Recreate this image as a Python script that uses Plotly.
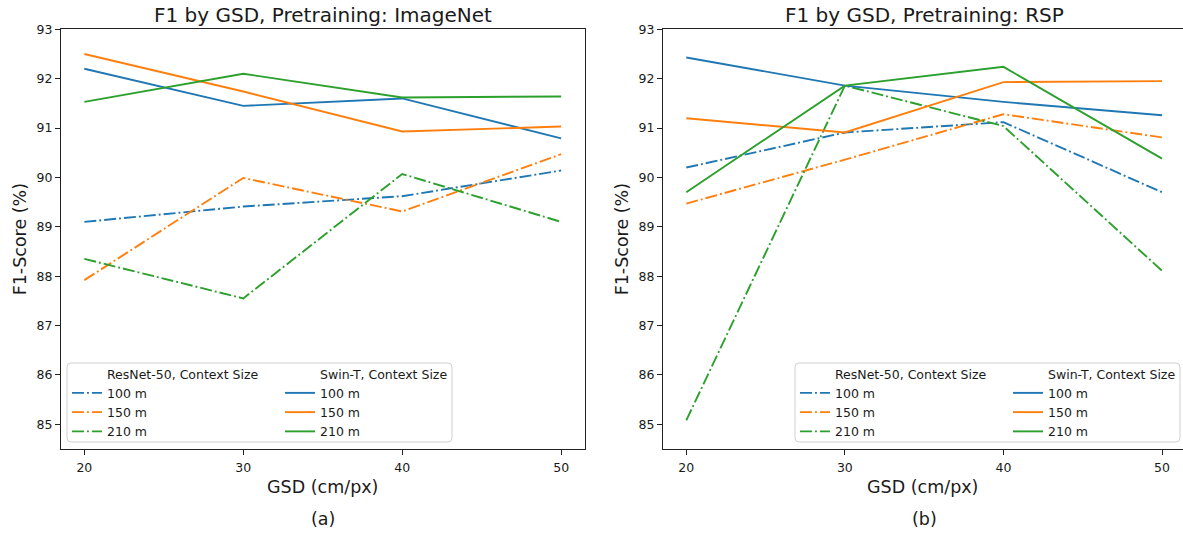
import plotly.graph_objects as go

# ---- data ----
gsd = [20, 30, 40, 50]
context_sizes = ["100 m", "150 m", "210 m"]

# Panel (a) ImageNet pretraining
imagenet_resnet = {
    "100 m": [89.10, 89.41, 89.62, 90.14],
    "150 m": [87.92, 89.99, 89.31, 90.47],
    "210 m": [88.35, 87.55, 90.07, 89.10],
}
imagenet_swin = {
    "100 m": [92.20, 91.45, 91.60, 90.79],
    "150 m": [92.50, 91.74, 90.93, 91.03],
    "210 m": [91.53, 92.10, 91.62, 91.64],
}
# Panel (b) RSP pretraining
rsp_resnet = {
    "100 m": [90.20, 90.91, 91.12, 89.70],
    "150 m": [89.47, 90.36, 91.28, 90.81],
    "210 m": [85.08, 91.86, 91.04, 88.11],
}
rsp_swin = {
    "100 m": [92.43, 91.86, 91.53, 91.26],
    "150 m": [91.20, 90.91, 91.93, 91.95],
    "210 m": [89.70, 91.86, 92.24, 90.38],
}
panel_titles = ["F1 by GSD, Pretraining: ImageNet", "F1 by GSD, Pretraining: RSP"]
panel_labels = ["(a)", "(b)"]
y_ticks = [85, 86, 87, 88, 89, 90, 91, 92, 93]

# ---- styling ----
W, H = 1183, 533
colors = {"100 m": "#1f77b4", "150 m": "#ff7f0e", "210 m": "#2ca02c"}
FONT = "DejaVu Sans"
TXT = "#1a1a1a"
DASHDOT = "12px,3px,1.9px,3px"
LW = 1.9

def px(x):
    return x / W

def py(y):
    return 1 - y / H

fig = go.Figure()

panels = [
    dict(res=imagenet_resnet, swin=imagenet_swin, xa="x", ya="y",
         xdom=[px(60.5), px(585)], xr=[18.5, 51.5], cx=px((60.5 + 585) / 2),
         leg_res="legend", leg_swin="legend2",
         box=(67, 363, 452, 442), res_text=107, swin_text=320),
    dict(res=rsp_resnet, swin=rsp_swin, xa="x2", ya="y2",
         xdom=[px(662.5), 1.0], xr=[18.5, 20 + (W - 686) / 15.867],
         cx=px((662.5 + 1186) / 2),
         leg_res="legend3", leg_swin="legend4",
         box=(795, 363, 1180, 442), res_text=835, swin_text=1048),
]

ydom = [py(449), py(29.3)]

for p in panels:
    for legname, header in [(p["leg_res"], "ResNet-50, Context Size"),
                            (p["leg_swin"], "Swin-T, Context Size")]:
        fig.add_trace(go.Scatter(
            x=[None], y=[None], mode="lines", name=header,
            line=dict(color="rgba(0,0,0,0)", width=2),
            xaxis=p["xa"], yaxis=p["ya"], legend=legname, showlegend=True,
            hoverinfo="skip"))
    for cs in context_sizes:
        fig.add_trace(go.Scatter(
            x=gsd, y=p["res"][cs], mode="lines", name=cs,
            line=dict(color=colors[cs], width=LW, dash=DASHDOT),
            xaxis=p["xa"], yaxis=p["ya"], legend=p["leg_res"]))
    for cs in context_sizes:
        fig.add_trace(go.Scatter(
            x=gsd, y=p["swin"][cs], mode="lines", name=cs,
            line=dict(color=colors[cs], width=LW),
            xaxis=p["xa"], yaxis=p["ya"], legend=p["leg_swin"]))

axis_common = dict(showgrid=False, zeroline=False, showline=True, automargin=False,
                   linecolor="#222", linewidth=1, ticks="outside",
                   ticklen=4.5, tickwidth=1, tickcolor="#222",
                   tickfont=dict(family=FONT, size=12.5, color=TXT))

layout = dict(
    width=W, height=H, autosize=False, margin=dict(l=0, r=0, t=0, b=0, pad=0),
    paper_bgcolor="white", plot_bgcolor="white",
    font=dict(family=FONT, color=TXT),
)

for i, p in enumerate(panels):
    sfx = "" if i == 0 else "2"
    layout["xaxis" + sfx] = dict(
        axis_common, domain=p["xdom"], range=p["xr"], tickvals=gsd,
        anchor="y" + sfx, mirror=True, ticklabelstandoff=2,
        title=dict(text="GSD (cm/px)", font=dict(family=FONT, size=17.5, color=TXT),
                   standoff=7))
    layout["yaxis" + sfx] = dict(
        axis_common, domain=ydom, range=[84.5, 93.0], tickvals=y_ticks,
        anchor="x" + sfx, mirror=(i == 0),
        title=dict(text="F1-Score (%)", font=dict(family=FONT, size=17.5, color=TXT),
                   standoff=5))

fig.update_layout(**layout)

def legend_cfg(text_x, top_y):
    return dict(x=px(text_x - 40), y=py(top_y), xanchor="left", yanchor="top",
                bgcolor="rgba(0,0,0,0)", borderwidth=0,
                font=dict(family=FONT, size=12.5, color=TXT),
                tracegroupgap=0, itemwidth=30, orientation="v")

leg_layout = {}
for p in panels:
    leg_layout[p["leg_res"]] = legend_cfg(p["res_text"], 359)
    leg_layout[p["leg_swin"]] = legend_cfg(p["swin_text"], 359)
fig.update_layout(**leg_layout)

def rounded_box(x0, y0, x1, y1, r=4):
    rx, ry = r / W, r / H
    X0, X1 = px(x0), px(x1)
    Y0, Y1 = py(y0), py(y1)
    return (f"M {X0+rx},{Y0} L {X1-rx},{Y0} Q {X1},{Y0} {X1},{Y0-ry} "
            f"L {X1},{Y1+ry} Q {X1},{Y1} {X1-rx},{Y1} "
            f"L {X0+rx},{Y1} Q {X0},{Y1} {X0},{Y1+ry} "
            f"L {X0},{Y0-ry} Q {X0},{Y0} {X0+rx},{Y0} Z")

for p in panels:
    fig.add_shape(type="path", xref="paper", yref="paper",
                  path=rounded_box(*p["box"]),
                  line=dict(color="#d0d0d0", width=1),
                  fillcolor="rgba(255,255,255,0.8)", layer="below")

for i, p in enumerate(panels):
    fig.add_annotation(text=panel_titles[i], x=p["cx"], y=py(15), xref="paper", yref="paper",
                       showarrow=False, xanchor="center", yanchor="middle",
                       font=dict(family=FONT, size=20, color=TXT))
    fig.add_annotation(text=panel_labels[i], x=p["cx"], y=py(519), xref="paper", yref="paper",
                       showarrow=False, xanchor="center", yanchor="middle",
                       font=dict(family=FONT, size=17.5, color=TXT))

fig.write_html("out.html", config={"displayModeBar": False},
               post_script="document.body.style.margin='0';document.body.style.padding='0';")
